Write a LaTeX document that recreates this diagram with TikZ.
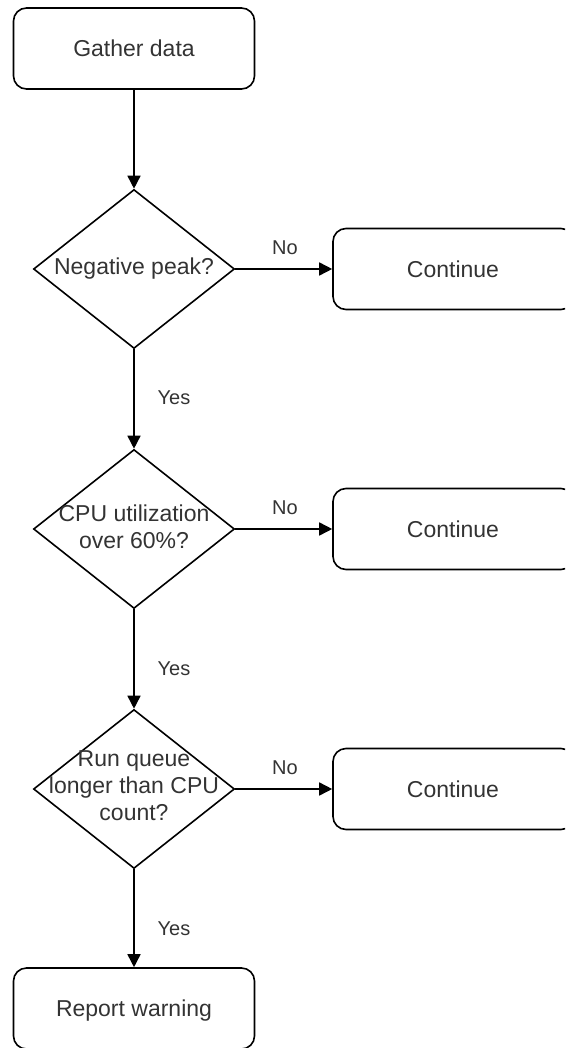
\documentclass[tikz,border=0pt]{standalone}
\usepackage{fontspec}
\setmainfont{Liberation Sans}
\usetikzlibrary{shapes.geometric,arrows.meta}
\definecolor{txtc}{gray}{0.2}
\tikzset{
  box/.style={draw, line width=1.6pt, rounded corners=13pt, minimum width=241pt, minimum height=81pt, inner sep=0pt},
  dia/.style={draw, diamond, line width=1.6pt, minimum width=201pt, minimum height=159pt, inner sep=0pt, aspect=1.26},
  txt/.style={text=txtc, font=\fontsize{23}{27}\selectfont, align=center, inner sep=0pt},
  lbl/.style={text=txtc, font=\fontsize{20}{24}\selectfont, inner sep=0pt},
  arr/.style={line width=1.6pt, -{Triangle[length=13pt,width=13pt]}},
  ln/.style={line width=1.6pt}
}
\begin{document}
\begin{tikzpicture}[x=1pt,y=-1pt]
\useasboundingbox (0,0) rectangle (565,1048);
\clip (0,0) rectangle (565,1048);
\node[box] (gather) at (134,48.5) {};
\node[txt] (tg) at (gather) {Gather data};

\node[dia] (d1) at (134,269) {};
\node[txt] (t1) at (d1) {Negative peak?};
\node[box] (c1) at (453.5,269) {};
\node[txt] (tc1) at (453,269) {Continue};

\node[dia] (d2) at (134,529) {};
\node[txt] (t2) at (134,527) {CPU utilization\\over 60\%?};
\node[box] (c2) at (453.5,529) {};
\node[txt] (tc2) at (453,529) {Continue};

\node[dia] (d3) at (134,789) {};
\node[txt] (t3) at (134,786) {Run queue\\longer than CPU\\count?};
\node[box] (c3) at (453.5,789) {};
\node[txt] (tc3) at (453,789) {Continue};

\node[box] (rep) at (134,1008.5) {};
\node[txt] (tr) at (134,1011) {Report warning};

\draw[arr] (gather.south) -- (d1.north);
\draw[arr] (d1.east) -- (c1.west);
\draw[arr] (d1.south) -- (d2.north);
\draw[arr] (d2.east) -- (c2.west);
\draw[arr] (d2.south) -- (d3.north);
\draw[arr] (d3.east) -- (c3.west);
\draw[arr] (d3.south) -- (rep.north);

\node[lbl] (no1) at (285,248) {No};
\node[lbl] (no2) at (285,508) {No};
\node[lbl] (no3) at (285,768) {No};
\node[lbl] (y1) at (174,398) {Yes};
\node[lbl] (y2) at (174,669) {Yes};
\node[lbl] (y3) at (174,929) {Yes};
\end{tikzpicture}
\end{document}
